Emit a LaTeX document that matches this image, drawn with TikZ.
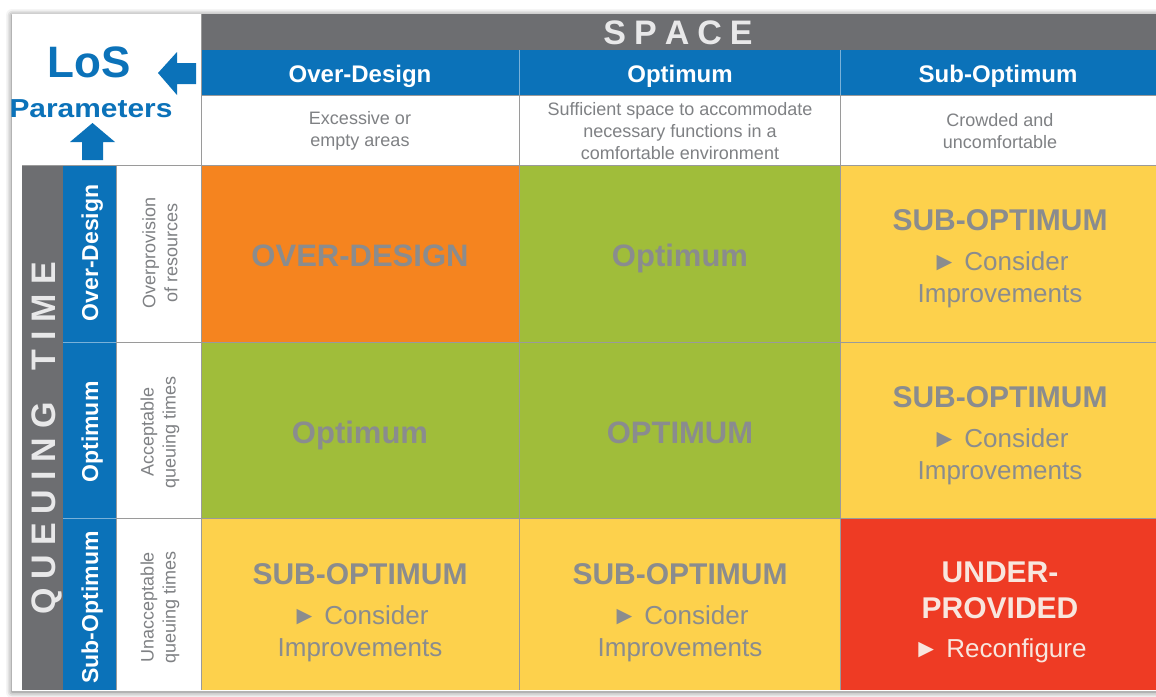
\documentclass[tikz,border=0pt]{standalone}
\usepackage{fontspec}
\setmainfont{Liberation Sans}
\usetikzlibrary{shadows.blur}
\definecolor{hdrgray}{HTML}{6D6E71}
\definecolor{losblue}{HTML}{0B72B9}
\definecolor{cellorange}{HTML}{F5841F}
\definecolor{cellgreen}{HTML}{A0BD3A}
\definecolor{cellyellow}{HTML}{FDD14C}
\definecolor{cellred}{HTML}{EE3B24}
\definecolor{celltext}{HTML}{8A8C8E}
\definecolor{descgray}{HTML}{7F8184}
\definecolor{gridgray}{HTML}{9A9A9A}
\definecolor{titlegray}{HTML}{E8E8E9}
\definecolor{redtext}{HTML}{F8E6DE}
\newcommand{\myfs}[1]{\fontsize{#1}{#1}\selectfont}
\newcommand{\myfsl}[2]{\fontsize{#1}{#2}\selectfont}
\newcommand{\tri}{\char"25BA}
\tikzset{
  tbase/.style={inner sep=0pt, outer sep=0pt},
  hdrtxt/.style={tbase, anchor=base, text=white, font=\bfseries\myfs{24}},
  sidetxt/.style={tbase, anchor=base, text=white, font=\bfseries\myfs{23}, rotate=90},
  titletxt/.style={tbase, anchor=base, text=titlegray, font=\bfseries\myfs{34}},
  desctxt/.style={tbase, text=descgray, align=center, font=\myfsl{18}{22}},
  condtxt/.style={tbase, anchor=base, text=celltext, font=\bfseries\myfs{31}},
  bigtxt/.style={tbase, anchor=base, text=celltext, font=\bfseries\myfs{30}},
  subtxt/.style={tbase, anchor=base, text=celltext, font=\myfs{26}},
  gridline/.style={draw=gridgray, line width=0.9pt},
  hdrline/.style={draw=losblue!55!white, line width=0.9pt},
}
\begin{document}
\begin{tikzpicture}[x=1pt,y=-1pt]
\useasboundingbox (0,0) rectangle (1156,696);
% card
\path[fill=white, blur shadow={shadow xshift=0pt, shadow yshift=-1pt, shadow blur radius=6pt, shadow opacity=60}] (12,14) rectangle (1180,691);
% header bars
\fill[hdrgray] (201,14) rectangle (1180,50);
\fill[losblue] (201,50) rectangle (1180,95);
% left bars
\fill[hdrgray] (22,165) rectangle (63,690);
\fill[losblue] (63,165) rectangle (116,690);
% cells
\fill[cellorange] (201,165) rectangle (519,342);
\fill[cellgreen] (519,165) rectangle (840,342);
\fill[cellyellow] (840,165) rectangle (1180,342);
\fill[cellgreen] (201,342) rectangle (519,518);
\fill[cellgreen] (519,342) rectangle (840,518);
\fill[cellyellow] (840,342) rectangle (1180,518);
\fill[cellyellow] (201,518) rectangle (519,690);
\fill[cellyellow] (519,518) rectangle (840,690);
\fill[cellred] (840,518) rectangle (1180,690);
% grid lines
\draw[hdrline] (519,50) -- (519,95) (840,50) -- (840,95);
\draw[hdrline] (63,342) -- (116,342) (63,518) -- (116,518);
\draw[gridline] (201,14) -- (201,690);
\draw[gridline] (519,95) -- (519,690) (840,95) -- (840,690);
\draw[gridline] (201,95) -- (1180,95);
\draw[gridline] (22,165) -- (1180,165);
\draw[gridline] (116,342) -- (1180,342) (116,518) -- (1180,518);
\draw[gridline] (116,165) -- (116,690);
% LoS parameters and arrows
\node[tbase, anchor=base, text=losblue, font=\bfseries\myfs{44}] (los) at (89.5,77) {LoS};
\node[tbase, anchor=base, text=losblue, font=\bfseries\myfs{26}, xscale=1.15] (param) at (91,117) {Parameters};
\fill[losblue] (158,73) -- (177,52) -- (177,63) -- (196,63) -- (196,84) -- (177,84) -- (177,95) -- cycle;
\fill[losblue] (92.5,123) -- (115,142) -- (103,142) -- (103,160) -- (82,160) -- (82,142) -- (70,142) -- cycle;
% top headers
\node[titletxt] (space) at (678,44) {S\kern8pt P\kern8pt A\kern8pt C\kern8pt E};
\node[hdrtxt] (hod) at (360,82) {Over-Design};
\node[hdrtxt] (hop) at (680,82) {Optimum};
\node[hdrtxt] (hso) at (998,82) {Sub-Optimum};
\node[desctxt] (dod) at (360,131) {Excessive or\\empty areas};
\node[desctxt] (dop) at (680,131) {Sufficient space to accommodate\\necessary functions in a\\comfortable environment};
\node[desctxt] (dso) at (1000,131) {Crowded and\\uncomfortable};
% left headers
\node[titletxt, rotate=90] (qtime) at (55,438.5) {Q\kern9pt U\kern9pt E\kern9pt U\kern9pt I\kern9pt N\kern9pt G\kern32pt T\kern9pt I\kern9pt M\kern9pt E};
\node[sidetxt] (sod) at (98,253) {Over-Design};
\node[sidetxt] (sop) at (98,432) {Optimum};
\node[sidetxt] (sso) at (98,607.5) {Sub-Optimum};
\node[desctxt, rotate=90] (lod) at (160,253) {Overprovision\\of resources};
\node[desctxt, rotate=90] (lop) at (160,432) {Acceptable\\queuing times};
\node[desctxt, rotate=90] (lso) at (160,607) {Unacceptable\\queuing times};
% row 1
\node[condtxt] (c11) at (360,266) {OVER-DESIGN};
\node[condtxt] (c12) at (680,266) {Optimum};
\node[bigtxt] (c13a) at (1000,230) {SUB-OPTIMUM};
\node[subtxt] (c13b) at (1000,270) {\tri\ Consider};
\node[subtxt] (c13c) at (1000,302) {Improvements};
% row 2
\node[condtxt] (c21) at (360,443) {Optimum};
\node[condtxt] (c22) at (680,443) {OPTIMUM};
\node[bigtxt] (c23a) at (1000,407) {SUB-OPTIMUM};
\node[subtxt] (c23b) at (1000,447) {\tri\ Consider};
\node[subtxt] (c23c) at (1000,479) {Improvements};
% row 3
\node[bigtxt] (c31a) at (360,584) {SUB-OPTIMUM};
\node[subtxt] (c31b) at (360,624) {\tri\ Consider};
\node[subtxt] (c31c) at (360,656) {Improvements};
\node[bigtxt] (c32a) at (680,584) {SUB-OPTIMUM};
\node[subtxt] (c32b) at (680,624) {\tri\ Consider};
\node[subtxt] (c32c) at (680,656) {Improvements};
\node[bigtxt, text=redtext] (c33a) at (1000,582) {UNDER-};
\node[bigtxt, text=redtext] (c33b) at (1000,618) {PROVIDED};
\node[subtxt, text=redtext] (c33c) at (1000,657) {\tri\ Reconfigure};
\end{tikzpicture}
\end{document}
